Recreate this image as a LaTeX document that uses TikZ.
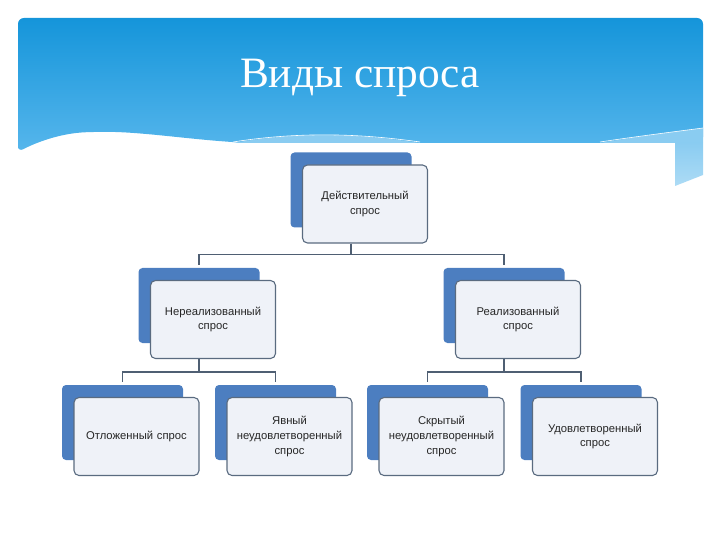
\documentclass[tikz,border=0pt]{standalone}
\usepackage{fontspec}
\setmainfont{Liberation Serif}
\newfontfamily\boxfont{Liberation Sans}
\usetikzlibrary{calc}

\definecolor{hdrtop}{HTML}{1595DA}
\definecolor{hdrbot}{HTML}{56B6EC}
\definecolor{bandblue}{HTML}{8ACCF1}
\definecolor{backblue}{HTML}{4C7EC0}
\definecolor{frontfill}{HTML}{EFF2F8}
\definecolor{frontline}{HTML}{5A6B80}
\definecolor{linkgray}{HTML}{4F5F73}

% one demand box: blue back plate and the text plate over it
\newcommand{\sprosbox}[3]{%
  \node[backbox] (#1) at #2 {};
  \node[frontbox] (#1f) at ($(#1)+(14,14)$) {#3};
}

\begin{document}
\begin{tikzpicture}[
  x=1bp, y=-1bp,
  backbox/.style={fill=backblue, rounded corners=4, minimum width=121bp, minimum height=75bp, inner sep=0},
  frontbox/.style={fill=frontfill, draw=frontline, line width=1.1pt, rounded corners=5,
    minimum width=125bp, minimum height=78bp, inner sep=2bp, text width=121bp, align=center,
    font=\boxfont\fontsize{11.3}{15}\selectfont, text=black!85},
  link/.style={draw=linkgray, line width=1.2pt}
]
\useasboundingbox (0,0) rectangle (720,540);

% header
\shade[top color=hdrtop, bottom color=hdrbot, rounded corners=6]
  (18,152) -- (18,18) -- (703,18) -- (703,143) -- (250,143)
  .. controls (190,140) and (140,131) .. (93,132)
  .. controls (60,133) and (35,143) .. (18,152) -- cycle;
\fill[bandblue] (233,143) .. controls (290,133) and (350,132) .. (420,143) -- cycle;
\draw[white, line width=0.6pt] (233,142) .. controls (290,133) and (350,132) .. (420,142);
\fill[bandblue] (600,143) .. controls (640,136) and (680,131) .. (703,128) -- (703,143) -- cycle;
\draw[white, line width=0.6pt] (600,142) .. controls (640,136) and (680,131) .. (703,128);
\shade[top color=bandblue, bottom color=bandblue!70!white] (675,143) -- (675,186) -- (703,175) -- (703,143) -- cycle;
\node[text=white, font=\fontsize{43.5}{48}\selectfont] (title) at (360,78) {Виды спроса};

% boxes
\sprosbox{real}{(351,190)}{Действительный\\спрос}
\sprosbox{nonreal}{(199,305.5)}{Нереализованный\\спрос}
\sprosbox{done}{(504,305.5)}{Реализованный\\спрос}
\sprosbox{late}{(122.5,422.5)}{Отложенный спрос}
\sprosbox{open}{(275.5,422.5)}{Явный\\неудовлетворенный\\спрос}
\sprosbox{hidden}{(427.5,422.5)}{Скрытый\\неудовлетворенный\\спрос}
\sprosbox{full}{(581,422.5)}{Удовлетворенный\\спрос}

% connectors
\draw[link] (real |- realf.south) -- ++(0,11) -| ($(nonreal.north)+(0,-3)$);
\draw[link] (real |- realf.south) -- ++(0,11) -| ($(done.north)+(0,-3)$);
\draw[link] (nonreal |- nonrealf.south) -- ++(0,13) -| ($(late.north)+(0,-3)$);
\draw[link] (nonreal |- nonrealf.south) -- ++(0,13) -| ($(open.north)+(0,-3)$);
\draw[link] (done |- donef.south) -- ++(0,13) -| ($(hidden.north)+(0,-3)$);
\draw[link] (done |- donef.south) -- ++(0,13) -| ($(full.north)+(0,-3)$);
\end{tikzpicture}
\end{document}
